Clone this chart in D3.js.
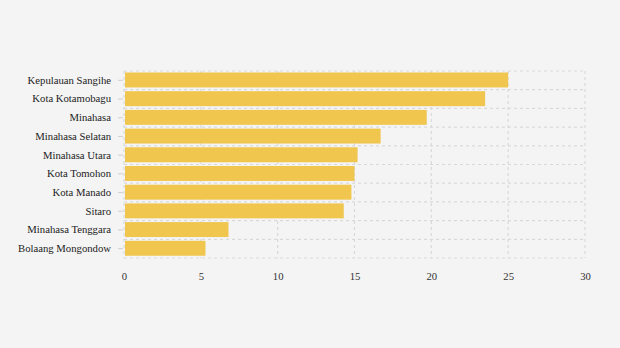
<!DOCTYPE html>
<html><head><meta charset="utf-8">
<script src="https://cdn.jsdelivr.net/npm/d3@7"></script>
<style>html,body{margin:0;padding:0;background:#f4f4f4;}svg{display:block;}</style>
</head><body><div id="chart"></div>
<script>
const categories = ["Kepulauan Sangihe","Kota Kotamobagu","Minahasa","Minahasa Selatan","Minahasa Utara","Kota Tomohon","Kota Manado","Sitaro","Minahasa Tenggara","Bolaang Mongondow"];
const values = [25.0, 23.5, 19.7, 16.7, 15.2, 15.0, 14.8, 14.3, 6.8, 5.3];
const xTicks = [0, 5, 10, 15, 20, 25, 30];

const W = 620, H = 348;
const m = {top: 71, right: 35, bottom: 90, left: 124};
const svg = d3.select("#chart").append("svg").attr("width", W).attr("height", H);
svg.append("rect").attr("width", W).attr("height", H).attr("fill", "#f4f4f4");

const x = d3.scaleLinear().domain([0, 30]).range([m.left, W - m.right]);
const y = d3.scaleBand().domain(categories).range([m.top, H - m.bottom]).paddingInner(0).paddingOuter(0);
const bw = y.bandwidth();
const font = "'Liberation Serif', 'Times New Roman', serif";
const gridCol = "#d9d9d9";
const fs = 10.7;

// horizontal grid lines at band boundaries
const hLines = categories.map(c => y(c)).concat([y.range()[1]]);
svg.append("g").selectAll("line").data(hLines).join("line")
  .attr("x1", x(0)).attr("x2", x(30)).attr("y1", d => d).attr("y2", d => d)
  .attr("stroke", gridCol).attr("stroke-width", 1.2).attr("stroke-dasharray", "3,3");
// vertical grid lines
svg.append("g").selectAll("line").data(xTicks).join("line")
  .attr("x1", d => x(d)).attr("x2", d => x(d)).attr("y1", m.top).attr("y2", y.range()[1])
  .attr("stroke", gridCol).attr("stroke-width", 1.2).attr("stroke-dasharray", "3,3");

// bars
svg.append("g").selectAll("rect").data(values).join("rect")
  .attr("x", x(0) + 1)
  .attr("y", (d, i) => y(categories[i]) + bw * 0.08)
  .attr("width", d => x(d) - x(0) - 1)
  .attr("height", bw * 0.8)
  .attr("fill", "#f0c64f");

// y axis
const yAxis = d3.axisLeft(y).tickSize(5).tickPadding(7);
const gy = svg.append("g").attr("transform", `translate(${x(0) - 1},0)`).call(yAxis);
gy.select(".domain").remove();
gy.selectAll(".tick line").attr("stroke", "#d0d0d0");
gy.selectAll(".tick text").attr("font-family", font).attr("font-size", fs).attr("fill", "#222");

// x axis labels
const xAxis = d3.axisBottom(x).tickValues(xTicks).tickSize(0).tickPadding(13);
const gx = svg.append("g").attr("transform", `translate(0,${y.range()[1] + 1})`).call(xAxis);
gx.select(".domain").remove();
gx.selectAll(".tick text").attr("font-family", font).attr("font-size", fs).attr("fill", "#333");
</script></body></html>
